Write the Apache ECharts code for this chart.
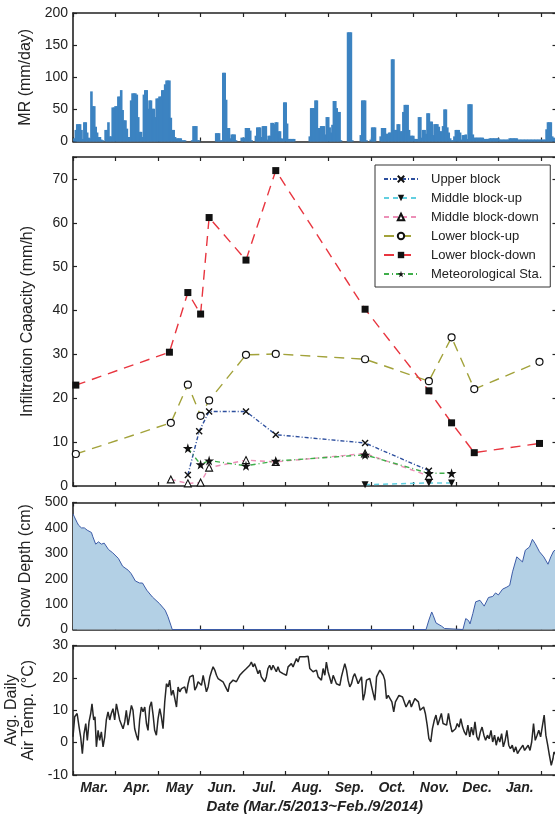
<!DOCTYPE html>
<html><head><meta charset="utf-8">
<script src="https://cdn.jsdelivr.net/npm/echarts@6/dist/echarts.min.js"></script>
<style>html,body{margin:0;padding:0;background:#fff}#c{width:555px;height:816px}</style>
</head><body><div id="c"></div>
<script>
// x axis: day index, 0 = Mar. 5, 2013 ... 341 = Feb. 9, 2014
const monthLabels = ['Mar.','Apr.','May','Jun.','Jul.','Aug.','Sep.','Oct.','Nov.','Dec.','Jan.'];
const xTitle = 'Date (Mar./5/2013~Feb./9/2014)';

// Panel 1: MR (mm/day), one value per day
const mr = [
0,5,18,27,27,27,18,4,30,30,
14,6,5,78,55,55,23,14,7,7,
3,2,0,18,18,30,8,8,53,53,
55,55,70,70,80,49,33,33,20,7,
7,64,75,75,75,73,38,15,15,7,
73,80,80,51,64,64,51,51,38,67,
67,70,70,80,80,89,95,95,95,37,
18,18,7,5,5,5,5,2,2,2,
0,0,0,0,2,24,24,24,2,2,
0,0,0,0,0,0,0,0,0,0,
0,13,13,13,2,2,107,107,65,21,
21,5,11,11,11,2,0,0,0,6,
6,6,21,21,21,17,2,0,0,9,
22,22,22,7,24,24,24,3,9,9,
29,29,27,30,30,16,16,5,4,61,
61,28,4,4,4,4,4,0,0,0,
0,0,0,0,0,0,0,8,52,52,
52,64,64,21,21,24,24,24,11,38,
38,22,14,26,63,63,52,46,46,2,
0,0,0,0,170,170,170,2,0,0,
0,0,0,10,64,64,64,2,0,0,
3,22,22,22,0,0,0,8,21,21,
21,12,12,14,14,128,128,18,18,27,
27,16,16,46,57,57,57,18,9,9,
9,4,4,4,38,38,6,18,18,12,
44,44,31,31,10,27,27,27,23,16,
16,24,50,50,22,14,5,2,2,8,
18,18,18,14,3,10,10,11,4,58,
58,58,11,6,6,6,6,6,6,6,
4,4,4,4,5,5,5,5,5,5,
5,3,3,3,3,3,3,3,5,5,
5,5,5,5,3,3,3,3,3,3,
3,3,3,3,3,3,3,3,3,3,
3,3,3,3,19,30,30,30,8,6,
3,3];

// Panel 2: Infiltration capacity (mm/h)
const upperDays = [81,89,96,122,143,206,251];
const upperVals = [2.5,12.5,17,17,11.7,9.8,3.5];
const midUpDays = [206,251,267];
const midUpVals = [0.3,0.7,0.7];
const midDownDays = [69,81,90,96,122,143,206,251];
const midDownVals = [1.5,0.6,0.8,4.2,5.9,5.5,7.4,2.3];
const lowUpDays = [2,69,81,90,96,122,143,206,251,267,283,329];
const lowUpVals = [7.3,14.4,23.1,16.0,19.5,29.9,30.1,28.9,23.9,33.9,22.1,28.3];
const lowDownDays = [2,68,81,90,96,122,143,206,251,267,283,329];
const lowDownVals = [23.0,30.5,44.1,39.2,61.2,51.5,71.9,40.3,21.7,14.4,7.6,9.7];
const metDays = [81,90,96,122,143,206,251,267];
const metVals = [8.6,4.9,5.8,4.6,5.7,7.1,2.9,2.9];

// Panel 3: Snow depth (cm)
const snowDays = [0,1,3,4,6,8,10,13,14,16,18,20,22,25,28,32,35,39,41,44,47,49,52,56,61,65,67,69,70,
 249,251,253,254,256,260,262,263,275,277,279,280,282,284,287,290,293,296,298,300,303,306,308,310,313,314,317,319,322,324,326,329,332,335,337,339,341];
const snowVals = [455,443,420,410,400,400,391,382,365,336,345,336,340,315,302,280,249,233,220,191,183,183,155,128,102,76,50,17,0,
 0,37,69,56,26,13,4,0,0,43,35,22,63,109,115,92,126,130,144,136,159,167,174,227,286,286,266,312,325,355,338,306,286,257,286,309,315];

// Panel 4: Avg. daily air temperature (°C)
const tempDays = [0,1.2,2.9,4.3,5.4,6.6,7.8,9,10.1,11.3,12.5,13.4,14.6,15.5,16.5,17.7,18.8,20,21.2,22.4,23.5,24.7,25.9,27,28.2,29.4,30.6,31.8,32.9,34.1,35.3,36.5,37.6,38.8,40,41.2,42.3,43.5,44.7,45.9,47,48.2,49.4,50.6,51.8,52.9,54.1,55.3,56.5,57.6,58.8,60,61.2,62.3,63.5,64.7,65.9,67.1,68.2,69.4,70.6,71.8,73,74.1,75.3,76.5,77.6,78.8,80,81.2,82.4,83.5,84.7,85.9,87.1,88.2,89.4,90.6,91.8,92.9,94.1,95.3,96.5,97.6,98.8,100,101.2,102.3,
103.5,105.8,108.2,109.3,110.5,112.9,115.2,117.6,119.9,122.3,124.6,125.8,127,128.1,129.3,130.5,131.7,132.8,134,135.2,136.4,137.5,138.7,139.9,141.1,142.3,143.4,144.6,145.8,148.1,150.5,151.7,152.8,154,155.2,157.6,158.7,159.9,161.1,163.5,165.8,167,168.2,169.3,170.5,171.7,172.9,174.1,175.2,176.4,177.6,178.7,179.9,181.1,182.3,183.5,184.6,185.8,187,188.2,189.3,190.5,191.7,192.9,194,195.2,196.4,197.6,198.7,199.9,201.1,202.3,203.5,204.6,205.8,207,208.2,209.3,210.5,211.7,212.9,214.1,215.2,216.4,217.6,218.8,219.9,221.1,222.3,223.5,
224.9,226.2,227.4,229.9,232.4,234.9,237.4,238.6,241.1,243.6,244.8,247.3,248.5,249.8,251,252.3,253.5,254.8,256,257.3,258.5,259.8,261,262.3,263.5,264.8,266,267.3,268.5,269.8,271,272.3,273.5,274.8,276,277.3,278.5,279.8,281,282.3,283.5,284.8,286,287.3,288.5,289.8,291,292.3,293.5,294.8,296,297.3,298.5,299.8,301,302.3,303.5,304.8,306,307.3,308.5,309.8,311,312.3,313.5,314.8,316,317.3,318.5,319.8,321,322.3,323.5,324.8,326,327.3,328.5,329.8,331,332.3,333.5,334.8,336,337.3,338.5,339.2,341];
const tempVals = [1.8,8,9,4.8,1.8,-3.4,2.8,5.9,0.7,6.4,9,12,7,8,-1.3,3.8,0.7,3.3,-1.3,1.8,7,9.5,7,9,10.5,7,12,12.6,7,6.4,4.3,6.4,10,5.4,5.9,11.5,10,4.3,2.3,0.7,7,11,9.5,11,5.9,3.8,11,12.6,8.5,3.8,2.3,7.4,10.5,8,4.3,12.6,18.2,17.2,19.3,14.6,16.2,16.2,11,17.2,15.7,16.7,16.2,17.2,15.2,18.2,20.3,19.8,20.8,16.2,17.2,18.8,19.3,17.7,20.8,20.3,15.7,17.2,20.3,21.9,23.4,22.4,20.8,19.8,
20.3,18.8,16.7,15.7,18.2,19.3,18.8,20.8,21.9,22.9,23.9,24.9,23.4,24.4,22.9,21.3,22.4,20.3,20.8,18.8,20.3,22.9,23.9,22.4,23.9,23.4,21.9,23.4,21.9,21.3,20.8,23.4,23.9,24.4,23.4,26,24.9,26.5,26.5,26.5,26.7,22.9,23.4,21.9,21.3,22.4,20.3,19.8,19.3,22.9,20.8,24.9,21.9,21.3,18.2,20.8,20.3,18.2,18.8,17.7,20.3,22.4,24.4,22.4,19.3,17.2,18.2,20.3,21.3,19.8,18.2,19.3,20.3,13.1,15.2,19.3,18.8,19.8,20.3,15.2,13.1,20.3,21.3,22.4,22.4,20.8,19.3,13.6,14.6,15.2,
12.6,9.5,12.6,14.6,14.1,11,13.1,11,13.6,12.6,10,11,9,5.4,1.2,0.2,4.3,6.9,8.5,5.4,5.9,9,5.9,5.4,5.4,9,5.9,3.3,2.8,4.3,5.9,4.8,7.4,4.8,3.3,2.3,5.4,1.8,4.8,2.3,6.4,1.8,0.7,3.3,4.8,2.3,0.7,2.3,1.2,3.8,0.2,2.3,-0.8,1.8,0.2,2.8,-1.3,0.7,3.8,-0.8,-1.9,-0.8,-2.9,-1.3,-3.4,-2.4,-2.9,-0.8,-2.4,-1.9,-0.8,-2.4,0.2,5.9,0.7,2.3,3.8,1.8,2.3,8.5,2.3,-0.8,-3.9,-7,-5,-2.9,-4];

const zip = (a, b) => a.map((v, i) => [v, b[i]]);
const FONT = 'Liberation Sans, Arial, Helvetica, sans-serif';
const INK = '#222';
const L = 73, W = 483.5;
const gridBase = {left: L, width: W, containLabel: false, outerBoundsMode: 'none'};
const grids = [
  Object.assign({top: 13, height: 128.5}, gridBase),
  Object.assign({top: 157, height: 329}, gridBase),
  Object.assign({top: 502.5, height: 127}, gridBase),
  Object.assign({top: 645.5, height: 129.5}, gridBase)
];
function xAx(g, pos) {
  return {type: 'value', gridIndex: g, min: 0, max: 341, interval: 30, position: pos,
    axisLine: {onZero: false, lineStyle: {color: INK, width: 1.6}},
    axisTick: {inside: true, length: 4, lineStyle: {color: INK, width: 1.2}},
    axisLabel: {show: false}, splitLine: {show: false}};
}
function yAx(g, pos, min, max, interval, name, gap, fmt) {
  const left = pos === 'left';
  return {type: 'value', gridIndex: g, min, max, interval, position: pos,
    axisLine: {onZero: false, lineStyle: {color: INK, width: 1.6}},
    axisTick: {inside: true, length: 4, lineStyle: {color: INK, width: 1.2}},
    axisLabel: {show: left, color: INK, fontSize: 14, fontFamily: FONT, margin: 5,
      formatter: fmt || (v => String(v))},
    splitLine: {show: false},
    name: left ? name : '', nameLocation: 'middle', nameGap: gap || 37,
    nameTextStyle: {color: INK, fontSize: 16, fontFamily: FONT, lineHeight: 17}};
}
const xAxis = [
  xAx(0, 'bottom'), xAx(0, 'top'),
  xAx(1, 'bottom'), xAx(1, 'top'),
  xAx(2, 'bottom'), xAx(2, 'top'),
  xAx(3, 'bottom'), xAx(3, 'top'),
  {type: 'value', gridIndex: 3, min: 0, max: 341, interval: 15, position: 'bottom',
    axisLine: {show: false}, axisTick: {show: false}, splitLine: {show: false},
    axisLabel: {color: INK, fontSize: 14, fontFamily: FONT, fontStyle: 'italic', fontWeight: 'bold', margin: 6,
      formatter: v => (v % 30 === 15 ? (monthLabels[(v - 15) / 30] || '') : '')},
    name: xTitle, nameLocation: 'middle', nameGap: 24,
    nameTextStyle: {color: INK, fontSize: 15, fontFamily: FONT, fontStyle: 'italic', fontWeight: 'bold'}}
];
const yAxis = [
  yAx(0, 'left', 0, 200, 50, 'MR (mm/day)'), yAx(0, 'right', 0, 200, 50),
  yAx(1, 'left', 0, 75, 10, 'Infiltration Capacity (mm/h)', 37, v => (v % 10 === 0 ? String(v) : '')),
  yAx(1, 'right', 0, 75, 10),
  yAx(2, 'left', 0, 500, 100, 'Snow Depth (cm)'), yAx(2, 'right', 0, 500, 100),
  yAx(3, 'left', -10, 30, 10, 'Avg. Daily\nAir Temp. (°C)', 27), yAx(3, 'right', -10, 30, 10)
];
const STAR = 'path://M50,0L61,35L98,35L68,57L79,91L50,70L21,91L32,57L2,35L39,35Z';
const XMARK = 'path://M0,0L10,10M0,10L10,0';
function infil(name, days, vals, color, dash, symbol, itemStyle, size, rotate) {
  return {type: 'line', name, xAxisIndex: 2, yAxisIndex: 2, data: zip(days, vals),
    symbol, symbolSize: size || 7, symbolRotate: rotate || 0, showSymbol: true,
    lineStyle: {color, width: 1.4, type: dash}, itemStyle, z: 3};
}
const series = [
  {type: 'bar', name: 'MR', xAxisIndex: 0, yAxisIndex: 0, data: mr.map((v, i) => [i, v]),
    barWidth: 2.6, itemStyle: {color: '#3c83c1'}, silent: true},
  infil('Upper block', upperDays, upperVals, '#2d4f9e', [4, 2, 1, 2], XMARK,
    {color: 'none', borderColor: '#111', borderWidth: 1.4}, 6),
  infil('Middle block-up', midUpDays, midUpVals, '#62cfe0', [5, 4], 'triangle',
    {color: '#111', borderColor: '#111', borderWidth: 0}, 7, 180),
  infil('Middle block-down', midDownDays, midDownVals, '#ec8fb7', [5, 4], 'triangle',
    {color: '#fff', borderColor: '#111', borderWidth: 1.1}, 7),
  infil('Lower block-up', lowUpDays, lowUpVals, '#a2a23a', [10, 7], 'circle',
    {color: '#fff', borderColor: '#111', borderWidth: 1.2}, 7),
  infil('Lower block-down', lowDownDays, lowDownVals, '#e8353f', [10, 7], 'rect',
    {color: '#111', borderColor: '#111', borderWidth: 0}, 7),
  infil('Meteorological Sta.', metDays, metVals, '#3fae4a', [5, 3, 1, 3], STAR,
    {color: '#111', borderColor: '#111', borderWidth: 0}, 10),
  {type: 'line', name: 'Snow', xAxisIndex: 4, yAxisIndex: 4, data: zip(snowDays, snowVals),
    symbol: 'none', lineStyle: {color: '#3d5ca8', width: 1}, areaStyle: {color: '#b3d0e5', opacity: 1}, silent: true},
  {type: 'line', name: 'Temp', xAxisIndex: 6, yAxisIndex: 6, data: zip(tempDays, tempVals),
    symbol: 'none', lineStyle: {color: '#262626', width: 1.5}, silent: true}
];
const chart = echarts.init(document.getElementById('c'), null, {renderer: 'canvas'});
chart.setOption({
  animation: false,
  backgroundColor: '#fff',
  textStyle: {fontFamily: FONT},
  grid: grids,
  xAxis, yAxis, series,
  legend: {
    data: ['Upper block', 'Middle block-up', 'Middle block-down', 'Lower block-up', 'Lower block-down', 'Meteorological Sta.'],
    orient: 'vertical', left: 375, top: 165, padding: [7, 8, 6, 8],
    itemWidth: 34, itemHeight: 8, itemGap: 5,
    borderColor: '#333', borderWidth: 1, backgroundColor: '#fff',
    textStyle: {color: INK, fontSize: 13, fontFamily: FONT, lineHeight: 14, padding: [0, 0, 0, 8]},
    selectedMode: false
  }
});
</script></body></html>
